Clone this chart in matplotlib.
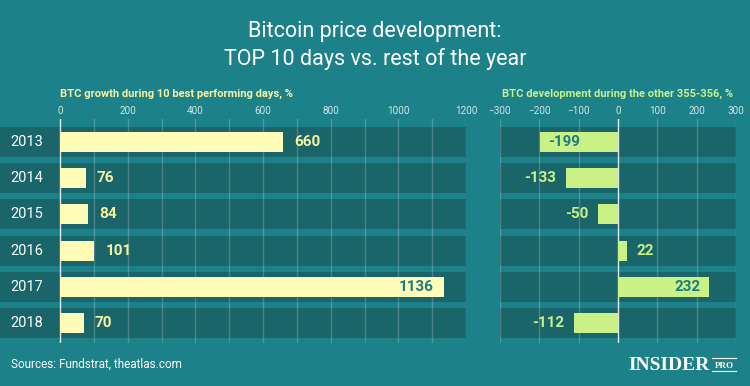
import matplotlib.pyplot as plt
import matplotlib.transforms as mtransforms
import numpy as np

# data
years = ['2013', '2014', '2015', '2016', '2017', '2018']
top10_growth = [660, 76, 84, 101, 1136, 70]
rest_of_year = [-199, -133, -50, 22, 232, -112]

left_ticks = [0, 200, 400, 600, 800, 1000, 1200]
right_ticks = [-300, -200, -100, 0, 100, 200, 300]

bg = '#1d8189'
band = '#1a6569'
yellow_bar = '#fffcb8'
green_bar = '#c9f185'
yellow_txt = '#f7f1a2'
green_txt = '#c8f08a'
inside_txt = '#1c7b85'
tick_col = '#cfe6e6'

plt.rcParams['font.family'] = ['Roboto', 'DejaVu Sans']

W, H = 750, 386
fig = plt.figure(figsize=(W / 100, H / 100), dpi=100, facecolor=bg)


def px_axes(x0, x1, y0, y1):
    # pixel box (top-left origin) -> figure axes
    return fig.add_axes([x0 / W, (H - y1) / H, (x1 - x0) / W, (y1 - y0) / H])


y = np.arange(len(years))
ylim = (5.55, -0.635)
band_h = 0.415
bar_h = 0.55

axL = px_axes(0, 466, 119, 343)
axR = px_axes(500, 736, 119, 343)

for ax in (axL, axR):
    ax.set_facecolor('none')
    for s in ax.spines.values():
        s.set_visible(False)
    ax.set_ylim(*ylim)
    ax.set_yticks([])
    ax.xaxis.tick_top()
    ax.tick_params(axis='x', length=0, pad=2, labelsize=7.2, labelcolor=tick_col)
    for i in y:
        ax.axhspan(i - band_h, i + band_h, color=band, lw=0, zorder=0)

# left panel
axL.set_xlim(-177.5, 1200)
axL.set_xticks(left_ticks)
for g in range(0, 1201, 100):
    axL.axvline(g, color='white', alpha=0.85 if g == 0 else 0.2, lw=1, zorder=1)
axL.barh(y, top10_growth, height=bar_h, color=yellow_bar, zorder=2)
for i, v in enumerate(top10_growth):
    if v > 900:
        axL.annotate(str(v), (v, i), xytext=(-8, 0), textcoords='offset points',
                     ha='right', va='center', fontsize=11, fontweight='bold', color=inside_txt, zorder=3)
    else:
        axL.annotate(str(v), (v, i), xytext=(8, 0), textcoords='offset points',
                     ha='left', va='center', fontsize=11, fontweight='bold', color=yellow_txt, zorder=3)
trans = mtransforms.blended_transform_factory(axL.transAxes, axL.transData)
for i, yr in enumerate(years):
    axL.text(27 / 466, i, yr, transform=trans, ha='center', va='center',
             fontsize=10.5, color='white')

# right panel
axR.set_xlim(-300, 300)
axR.set_xticks(right_ticks)
for g in range(-300, 301, 100):
    axR.axvline(g, color='white', alpha=0.85 if g == 0 else 0.2, lw=1, zorder=1)
axR.barh(y, rest_of_year, height=bar_h, color=green_bar, zorder=2)
for i, v in enumerate(rest_of_year):
    sign = 1 if v >= 0 else -1
    if abs(v) > 150:
        axR.annotate(str(v), (v, i), xytext=(-6 * sign, 0), textcoords='offset points',
                     ha='right' if v > 0 else 'left', va='center', fontsize=11,
                     fontweight='bold', color=inside_txt, zorder=3)
    else:
        axR.annotate(str(v), (v, i), xytext=(7 * sign, 0), textcoords='offset points',
                     ha='left' if v > 0 else 'right', va='center', fontsize=11,
                     fontweight='bold', color=green_txt, zorder=3)

# titles
fig.text(375 / W, 1 - 32 / H, 'Bitcoin price development:', ha='center', va='center',
         fontsize=15.5, color='white')
fig.text(375 / W, 1 - 59 / H, 'TOP 10 days vs. rest of the year', ha='center', va='center',
         fontsize=15.5, color='white')
fig.text(60 / W, 1 - 94 / H, 'BTC growth during 10 best performing days, %', ha='left',
         va='center', fontsize=8, fontweight='bold', color=yellow_txt)
fig.text(502 / W, 1 - 94 / H, 'BTC development during the other 355-356, %', ha='left',
         va='center', fontsize=8, fontweight='bold', color=green_txt)

# footer
fig.text(11 / W, 1 - 364 / H, 'Sources: Fundstrat, theatlas.com', ha='left', va='center',
         fontsize=8.5, color='white')
fig.text(710 / W, 1 - 365 / H, 'INSIDER', ha='right', va='center', fontsize=14,
         fontweight='bold', color='white', family='Liberation Serif')
fig.text(724 / W, 1 - 368.5 / H, 'PRO', ha='center', va='baseline', fontsize=6.5,
         fontweight='bold', color='white', family='Liberation Serif')
fig.add_artist(plt.Line2D([712 / W, 736 / W], [1 - 358 / H] * 2, color='white', lw=0.8))
fig.add_artist(plt.Line2D([712 / W, 736 / W], [1 - 371 / H] * 2, color='white', lw=0.8))

fig.savefig('out.png', dpi=100, facecolor=bg)
